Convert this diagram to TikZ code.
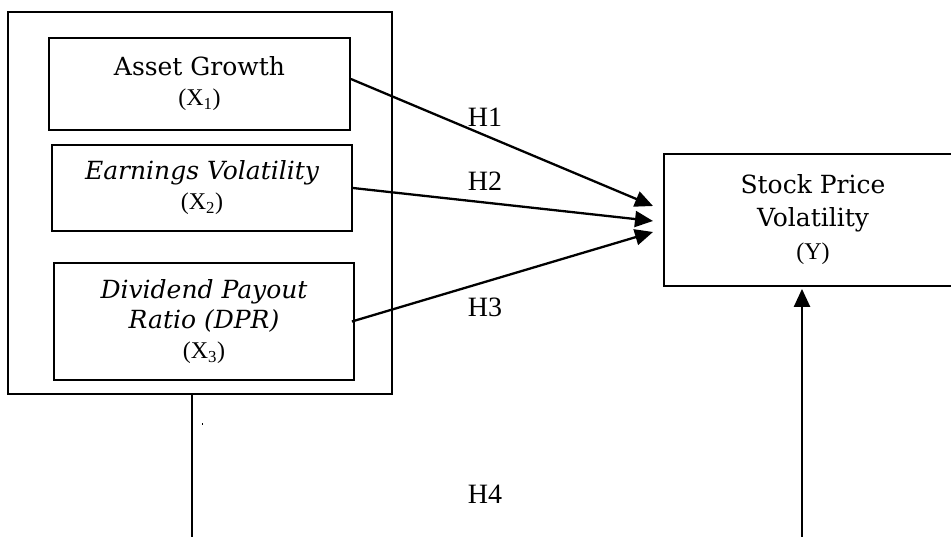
\documentclass[tikz,border=0pt]{standalone}
\usepackage{fontspec}
\setmainfont{DejaVu Serif}
\newfontfamily\tnr{Liberation Serif}
\usetikzlibrary{arrows.meta}
\newcommand\xsub[1]{{\tnr\fontsize{24}{29}\selectfont (X\textsubscript{#1})}}
\begin{document}
\begin{tikzpicture}[x=1pt,y=-1pt,
  box/.style={draw, line width=1.8pt, inner sep=0pt, align=center, font=\fontsize{25}{30}\selectfont},
  conn/.style={line width=2.3pt, -{Triangle[length=18pt,width=16pt]}},
  plain/.style={line width=2.3pt},
  hlab/.style={font=\tnr\fontsize{28}{30}\selectfont, inner sep=0pt}]
\useasboundingbox (0,0) rectangle (951,537);
\clip (0,0) rectangle (951,537);
% outer frame
\node[box, minimum width=384pt, minimum height=382pt] (outer) at (200,203) {};
% independent variables
\node[box, minimum width=301pt, minimum height=92pt] (b1) at (199.5,84) {Asset Growth\\\xsub{1}};
\node[box, minimum width=300pt, minimum height=86pt] (b2) at (202,188) {\itshape Earnings Volatility\\\xsub{2}};
\node[box, minimum width=300pt, minimum height=117pt] (b3) at (204,321.5) {\itshape Dividend Payout\\\itshape Ratio (DPR)\\\xsub{3}};
% dependent variable
\node[box, minimum width=298pt, minimum height=132pt, font=\fontsize{25}{33}\selectfont] (Y) at (813,220) {Stock Price\\Volatility\\{\tnr\fontsize{24}{29}\selectfont (Y)}};
% arrow ends
\coordinate (t1) at (653,206);
\coordinate (t2) at (653,221);
\coordinate (t3) at (653,232);
\draw[conn] ([yshift=5pt]b1.east) -- (t1);
\draw[conn] (b2.east) -- (t2);
\draw[conn] ([xshift=-3pt]b3.east) -- (t3);
% H4 path
\coordinate (l0) at (192,545);
\coordinate (u0) at (802,545);
\draw[plain] (outer.south -| l0) -- (l0);
\draw[conn, shorten >=2pt] (u0) -- (u0 |- Y.south);
\fill (201.5,423) rectangle (202.5,425);
% labels
\node[hlab] (h1) at (485,117) {H1};
\node[hlab] (h2) at (485,181) {H2};
\node[hlab] (h3) at (485,307) {H3};
\node[hlab] (h4) at (485,494) {H4};
\end{tikzpicture}
\end{document}
